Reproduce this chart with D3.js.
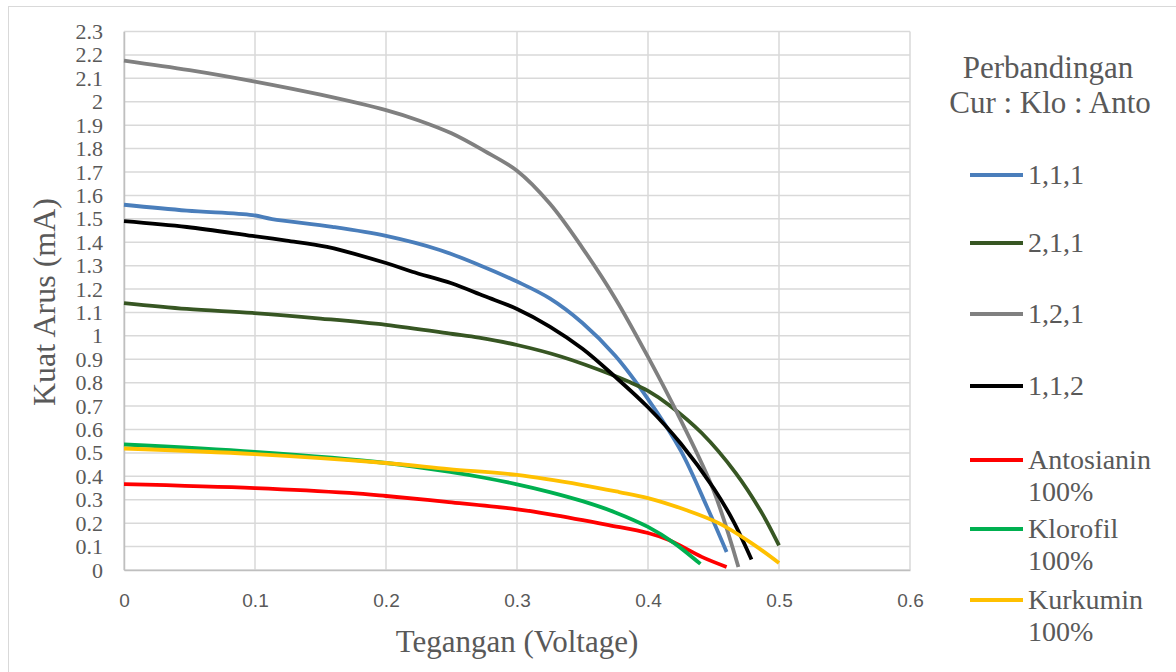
<!DOCTYPE html>
<html>
<head>
<meta charset="utf-8">
<script src="https://cdn.jsdelivr.net/npm/d3@7"></script>
<style>
  body { margin: 0; background: #fff; }
  svg { display: block; }
</style>
</head>
<body>
<div id="chart"></div>
<script>
  // [voltage, current mA]
  const seriesNames = ["1,1,1", "2,1,1", "1,2,1", "1,1,2", "Antosianin 100%", "Klorofil 100%", "Kurkumin 100%"];
  const seriesColors = ["#4a7ebb", "#375623", "#808080", "#000000", "#ff0000", "#00b050", "#ffc000"];

  const s111 = [[0, 1.56], [0.048, 1.535], [0.098, 1.516], [0.113, 1.499], [0.159, 1.466], [0.2, 1.427],
    [0.241, 1.367], [0.271, 1.303], [0.3, 1.232], [0.325, 1.16], [0.35, 1.055], [0.375, 0.915],
    [0.4, 0.73], [0.425, 0.51], [0.445, 0.27], [0.46, 0.077]];
  const s211 = [[0, 1.14], [0.048, 1.115], [0.098, 1.098], [0.15, 1.074], [0.2, 1.047], [0.251, 1.008],
    [0.271, 0.992], [0.3, 0.961], [0.334, 0.911], [0.373, 0.833], [0.385, 0.805], [0.4, 0.765],
    [0.416, 0.705], [0.441, 0.585], [0.467, 0.414], [0.487, 0.243], [0.5, 0.105]];
  const s121 = [[0, 2.176], [0.05, 2.135], [0.1, 2.086], [0.15, 2.03], [0.2, 1.964], [0.225, 1.92],
    [0.25, 1.865], [0.275, 1.79], [0.3, 1.705], [0.325, 1.565], [0.35, 1.375], [0.375, 1.16],
    [0.4, 0.91], [0.425, 0.64], [0.45, 0.34], [0.469, 0.013]];
  const s112 = [[0, 1.49], [0.048, 1.465], [0.098, 1.427], [0.124, 1.407], [0.155, 1.38], [0.2, 1.311],
    [0.22, 1.274], [0.25, 1.225], [0.275, 1.17], [0.3, 1.115], [0.325, 1.04], [0.35, 0.945],
    [0.375, 0.825], [0.4, 0.695], [0.425, 0.54], [0.45, 0.35], [0.465, 0.21], [0.479, 0.045]];
  const sAnto = [[0, 0.367], [0.1, 0.35], [0.172, 0.329], [0.2, 0.316], [0.248, 0.29], [0.299, 0.26],
    [0.324, 0.239], [0.37, 0.192], [0.4, 0.158], [0.416, 0.128], [0.441, 0.056], [0.46, 0.013]];
  const sKlo = [[0, 0.536], [0.1, 0.504], [0.2, 0.457], [0.25, 0.418], [0.275, 0.394], [0.3, 0.366],
    [0.325, 0.333], [0.35, 0.294], [0.375, 0.246], [0.4, 0.184], [0.42, 0.115], [0.44, 0.026]];
  const sKur = [[0, 0.519], [0.1, 0.495], [0.2, 0.457], [0.248, 0.431], [0.3, 0.406], [0.35, 0.363],
    [0.378, 0.333], [0.4, 0.307], [0.429, 0.256], [0.454, 0.2], [0.479, 0.115], [0.5, 0.03]];
  const allSeries = [s111, s211, s121, s112, sAnto, sKlo, sKur];

  const xTicks = [0, 0.1, 0.2, 0.3, 0.4, 0.5, 0.6];
  const yTicks = d3.range(0, 24).map((i) => i / 10);

  const width = 1176, height = 672;
  const plot = { left: 124, right: 910, top: 31.5, bottom: 570 };
  const serif = "'Liberation Serif', 'Times New Roman', serif";
  const sans = "'Liberation Sans', Arial, sans-serif";
  const textColor = "#595959";

  const svg = d3.select("#chart").append("svg")
    .attr("width", width)
    .attr("height", height);

  svg.append("rect")
    .attr("x", 8.5).attr("y", 6.5)
    .attr("width", width).attr("height", height)
    .attr("fill", "#fff")
    .attr("stroke", "#d9d9d9")
    .attr("stroke-width", 1);

  const x = d3.scaleLinear().domain([0, 0.6]).range([plot.left, plot.right]);
  const y = d3.scaleLinear().domain([0, 2.3]).range([plot.bottom, plot.top]);

  // grid
  svg.append("g")
    .attr("stroke", "#d9d9d9")
    .attr("stroke-width", 1.5)
    .selectAll("line")
    .data(yTicks)
    .join("line")
    .attr("x1", plot.left).attr("x2", plot.right)
    .attr("y1", (d) => y(d)).attr("y2", (d) => y(d));

  svg.append("g")
    .attr("stroke", "#d9d9d9")
    .attr("stroke-width", 1.5)
    .selectAll("line")
    .data(xTicks)
    .join("line")
    .attr("x1", (d) => x(d)).attr("x2", (d) => x(d))
    .attr("y1", plot.top).attr("y2", plot.bottom);

  // axes
  const xAxis = svg.append("g")
    .attr("transform", `translate(0,${plot.bottom})`)
    .call(d3.axisBottom(x).tickValues(xTicks).tickSize(0).tickPadding(24).tickFormat((d) => String(d)));
  xAxis.select(".domain").attr("stroke", "#bfbfbf").attr("stroke-width", 1.5);
  xAxis.selectAll("text").attr("font-family", sans).attr("font-size", 19).attr("fill", textColor);

  const yAxis = svg.append("g")
    .attr("transform", `translate(${plot.left},0)`)
    .call(d3.axisLeft(y).tickValues(yTicks).tickSize(0).tickPadding(21).tickFormat((d) => String(+d.toFixed(1))));
  yAxis.select(".domain").attr("stroke", "#bfbfbf").attr("stroke-width", 1.5);
  yAxis.selectAll("text").attr("font-family", serif).attr("font-size", 22).attr("fill", textColor);

  // series
  const line = d3.line()
    .x((d) => x(d[0]))
    .y((d) => y(d[1]))
    .curve(d3.curveCatmullRom.alpha(0.5));

  svg.append("g")
    .attr("fill", "none")
    .attr("stroke-width", 3.8)
    .attr("stroke-linejoin", "round")
    .selectAll("path")
    .data(allSeries)
    .join("path")
    .attr("stroke", (d, i) => seriesColors[i])
    .attr("d", line);

  // axis titles
  svg.append("text")
    .attr("x", 517)
    .attr("y", 652)
    .attr("text-anchor", "middle")
    .attr("font-family", serif).attr("font-size", 31).attr("fill", textColor)
    .text("Tegangan (Voltage)");

  svg.append("text")
    .attr("transform", `translate(55,302) rotate(-90)`)
    .attr("text-anchor", "middle")
    .attr("font-family", serif).attr("font-size", 32).attr("fill", textColor)
    .text("Kuat Arus (mA)");

  // legend
  const legend = svg.append("g").attr("font-family", serif).attr("fill", textColor);
  legend.append("text").attr("x", 1048).attr("y", 78).attr("text-anchor", "middle")
    .attr("font-size", 31).text("Perbandingan");
  legend.append("text").attr("x", 1050).attr("y", 113).attr("text-anchor", "middle")
    .attr("font-size", 31).text("Cur : Klo : Anto");

  const legendY = [175, 243, 314, 386, 460, 529, 600];
  seriesNames.forEach((name, i) => {
    const ly = legendY[i];
    legend.append("line")
      .attr("x1", 970).attr("x2", 1023)
      .attr("y1", ly).attr("y2", ly)
      .attr("stroke", seriesColors[i]).attr("stroke-width", 3.8);
    name.split(" ").forEach((p, j) => {
      legend.append("text")
        .attr("x", 1028).attr("y", ly + 9 + j * 32)
        .attr("font-size", 28)
        .text(p);
    });
  });
</script>
</body>
</html>
